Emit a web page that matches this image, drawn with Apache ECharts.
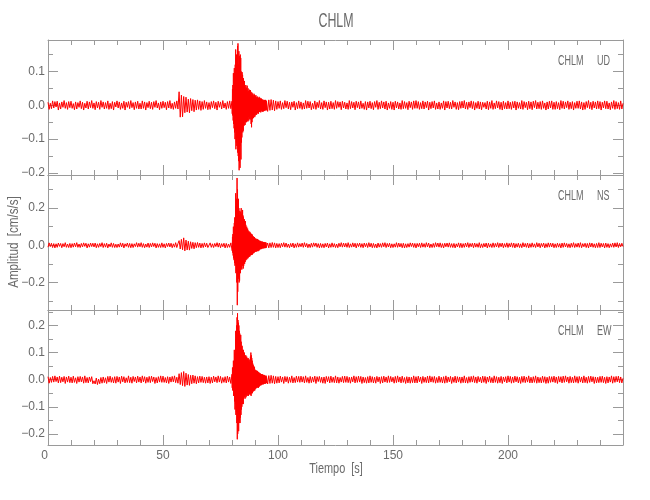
<!DOCTYPE html>
<html>
<head>
<meta charset="utf-8">
<script src="https://cdn.jsdelivr.net/npm/echarts@6/dist/echarts.min.js"></script>
<style>html,body{margin:0;padding:0;background:#fff}#c{width:650px;height:500px}</style>
</head>
<body>
<div id="c"></div>
<script>
// ---------------- DATA ----------------
const station = "CHLM";
const components = ["UD", "NS", "EW"];
const unit = 0.001;          // all trace values below are written in 10^-3 cm/s/s
const dt = 0.5;              // sampling of the quiet parts [s]
const preStart = 0;          // pre-event part: 0 .. 79.5 s
const eventStart = 80;       // event part: 80 .. 95 s
const eventDt = 0.1;         // sampling of the event part [s]
const postStart = 95.5;      // post-event part: 95.5 .. 250 s
const timeMin = 0, timeMax = 250;
const xTickLabels = [0, 50, 100, 150, 200];

// ---- UD ----
const udPre = [
 9,-12,6,-10,13,-8,11,-5,12,-14,7,-11,10,-6,14,-9,8,-12,11,-7,
 12,-9,5,-13,10,-11,8,-6,13,-10,9,-14,6,-8,12,-11,10,-7,14,-9,
 7,-13,11,-8,9,-12,14,-6,10,-11,8,-9,13,-12,6,-10,11,-14,9,-5,
 13,-8,10,-12,7,-9,12,-14,9,-6,11,-10,14,-7,8,-13,10,-9,12,-11,
 6,-11,13,-9,10,-14,8,-7,12,-10,9,-12,11,-6,14,-8,7,-13,10,-9,
 12,-7,9,-13,11,-8,14,-10,6,-12,10,-9,13,-11,40,-35,30,-34,26,-22,
 24,-20,18,-22,20,-16,17,-19,15,-14,16,-12,13,-15,11,-12,14,-9,10,-13,
 8,-12,11,-7,13,-10,9,-14,12,-6,10,-11,14,-8,7,-12,11,-9,13,-10
];
const udEvent = [
 12,-25,48,-30,60,-45,95,-55,70,-68,
 110,-80,95,-100,120,-75,165,-130,140,-110,
 150,-120,130,-95,175,-140,183,-150,120,-165,
 160,-192,145,-170,110,-185,150,-120,140,-160,
 100,-110,85,-95,98,-70,90,-80,60,-75,
 80,-55,65,-60,72,-45,55,-58,48,-50,
 60,-40,52,-50,45,-38,58,-45,40,-48,
 50,-35,42,-45,38,-30,46,-40,35,-42,
 45,-30,40,-55,30,-65,38,-50,28,-40,
 35,-28,30,-38,25,-32,34,-26,30,-35,
 28,-30,25,-22,30,-26,20,-28,24,-20,
 26,-22,20,-25,18,-24,22,-18,25,-20,
 20,-18,22,-15,19,-21,16,-18,20,-14,
 18,-16,14,-19,17,-13,15,-18,12,-16,
 16,-12,15,-17,13,-14,16,-11,14,-15,
 12
];
const udPost = [
 -18,16,-15,17,-14,15,-16,13,-12,
 11,-9,13,-12,8,-10,14,-7,12,-11,9,-13,10,-6,12,-14,8,-10,13,-9,
 10,-12,7,-11,14,-9,12,-8,11,-13,6,-10,13,-12,9,-7,14,-11,8,-12,
 13,-7,10,-14,9,-11,12,-10,8,-12,14,-9,11,-6,10,-13,12,-8,9,-11,
 7,-12,14,-10,11,-8,9,-13,12,-7,10,-11,13,-9,6,-12,11,-14,10,-8,
 12,-10,8,-13,11,-6,14,-12,9,-10,13,-8,10,-11,12,-14,7,-9,11,-12,
 9,-14,12,-8,10,-11,7,-12,14,-10,11,-9,8,-13,12,-7,10,-12,13,-9,
 14,-9,11,-12,8,-10,13,-11,10,-7,12,-14,9,-10,11,-8,13,-12,7,-11,
 10,-12,7,-9,13,-14,11,-8,12,-10,9,-11,14,-6,10,-12,8,-13,11,-9,
 12,-8,14,-11,9,-12,10,-7,13,-10,11,-14,8,-9,12,-11,10,-13,9,-6,
 8,-11,12,-13,10,-9,14,-12,7,-10,13,-8,11,-12,9,-14,12,-10,8,-11,
 13,-10,9,-12,11,-8,12,-14,10,-9,8,-11,14,-12,11,-7,9,-13,12,-10,
 10,-13,12,-7,14,-11,9,-10,11,-12,13,-9,7,-14,10,-11,12,-8,13,-12,
 9,-12,11,-10,8,-13,14,-9,12,-11,10,-7,13,-12,9,-10,11,-14,8,-9,
 12,-9,13,-11,10,-14,8,-12,11,-7,14,-10,9,-13,12,-8,10,-11,13,-10,
 11,-14,9,-8,13,-10,12,-11,7,-13,10,-9,14,-12,11,-10,8,-12,13,-11,
 6
];

// ---- NS ----
const nsPre = [
 -10,13,-7,11,-12,9,-14,8,-11,12,-6,10,-13,9,-8,14,-11,7,-12,10,
 -13,9,-10,12,-8,14,-11,7,-12,10,-9,13,-6,11,-14,8,-10,12,-7,11,
 -9,12,-13,8,-11,10,-7,14,-12,9,-10,11,-14,7,-8,13,-11,10,-12,6,
 -12,7,-10,13,-9,11,-14,8,-6,12,-11,10,-13,9,-12,8,-7,14,-10,11,
 -8,14,-11,9,-13,7,-10,12,-12,10,-9,13,-7,11,-14,9,-11,8,-12,13,
 -11,8,-14,10,-7,12,-9,11,-13,8,-10,14,-12,9,25,-20,32,-24,40,-30,
 28,-25,22,-26,19,-17,16,-19,14,-13,15,-11,12,-14,10,-12,13,-9,11,-12,
 -9,13,-11,8,-12,10,-7,14,-10,12,-13,9,-8,11,-14,10,-12,7,-11,13
];
const nsEvent = [
 15,-30,45,-40,60,-55,100,-70,85,-80,
 120,-95,150,-110,130,-100,280,-150,210,-140,
 250,-200,362,-322,300,-250,200,-180,250,-170,
 200,-200,160,-190,185,-140,170,-150,180,-130,
 200,-120,170,-130,150,-110,190,-100,160,-125,
 150,-110,120,-95,140,-100,110,-90,130,-80,
 110,-80,95,-70,100,-75,85,-65,90,-70,
 80,-65,70,-60,75,-55,65,-62,72,-50,
 65,-55,60,-48,62,-52,55,-45,58,-50,
 50,-45,48,-40,45,-42,40,-38,44,-35,
 38,-35,34,-32,36,-30,32,-34,30,-28,
 34,-30,28,-32,30,-26,27,-29,25,-24,
 22,-20,24,-18,21,-22,19,-17,20,-19,
 18,-16,20,-15,17,-18,16,-14,18,-15,
 16,-14,15,-16,14,-13,15,-12,14,-13,
 -12
];
const nsPost = [
 12,-14,13,-12,15,-11,13,-14,10,
 -12,9,-13,11,-8,14,-10,12,-11,7,-13,10,-9,12,-14,8,-11,13,-10,9,
 -8,12,-11,14,-9,10,-13,7,-12,11,-10,13,-6,12,-11,9,-14,10,-12,8,
 -13,10,-9,12,-14,8,-11,13,-10,9,-12,7,-13,11,-8,14,-10,12,-9,11,
 -11,14,-12,8,-10,13,-9,11,-14,10,-7,12,-11,9,-13,12,-8,10,-12,14,
 -9,11,-13,10,-12,7,-14,12,-10,9,-11,13,-8,14,-12,10,-9,11,-13,8,
 -12,8,-10,14,-11,12,-9,10,-13,11,-14,8,-12,9,-10,13,-7,12,-11,10,
 -14,10,-8,11,-12,13,-10,9,-11,14,-9,12,-13,7,-12,10,-11,14,-8,12,
 -10,13,-12,9,-14,11,-8,12,-10,13,-11,9,-12,10,-14,8,-9,13,-12,11,
 -13,9,-11,12,-9,14,-12,10,-8,11,-13,12,-10,9,-11,14,-13,8,-12,10,
 -9,12,-14,11,-10,8,-12,13,-11,10,-9,14,-12,11,-8,12,-13,9,-10,13,
 -12,10,-9,13,-11,12,-14,9,-10,11,-12,8,-13,14,-9,10,-11,12,-14,9,
 -11,13,-10,8,-12,14,-9,11,-13,10,-8,12,-14,9,-11,13,-10,12,-9,11,
 -13,8,-12,11,-10,9,-14,12,-11,13,-9,10,-12,8,-13,11,-10,14,-12,9,
 -10,12,-11,14,-13,9,-8,11,-12,10,-14,13,-9,12,-11,8,-13,10,-12,14,
 -12,11,-9,10,-14,12,-11,9,-13,8,-10,12,-11,13,-9,14,-12,10,-8,11,
 -7
];

// ---- EW ----
const ewPre = [
 11,-13,8,-10,12,-9,14,-7,10,-12,13,-11,9,-8,12,-14,10,-9,13,-11,
 9,-12,13,-10,7,-14,11,-9,12,-8,10,-13,14,-11,8,-12,10,-7,11,-15,
 -4,-16,6,-18,2,-15,8,-13,10,-11,7,-14,12,-9,13,-10,8,-12,11,-13,
 12,-9,10,-14,13,-8,11,-12,7,-10,14,-11,9,-13,12,-7,10,-12,13,-9,
 10,-12,14,-8,11,-13,9,-10,12,-11,13,-7,10,-14,8,-12,11,-9,14,-10,
 13,-10,8,-12,11,-14,10,-9,12,-8,14,-11,9,-13,22,-18,26,-22,30,-25,
 24,-20,19,-21,16,-15,17,-13,14,-15,11,-12,13,-10,12,-11,9,-13,10,-12,
 11,-14,9,-12,13,-8,10,-11,14,-9,12,-13,8,-10,11,-12,13,-9,10,-14
];
const ewEvent = [
 20,-30,45,-40,38,-35,70,-60,55,-50,
 110,-80,95,-110,100,-90,180,-130,150,-120,
 200,-160,230,-220,245,-200,220,-180,210,-190,
 200,-160,180,-150,170,-160,150,-140,165,-130,
 140,-110,120,-100,125,-90,110,-85,100,-90,
 110,-70,95,-65,100,-60,90,-70,85,-55,
 90,-65,80,-55,85,-60,70,-50,78,-58,
 80,-60,70,-50,75,-55,65,-48,72,-52,
 85,-55,100,-60,90,-50,80,-45,70,-50,
 60,-45,55,-40,50,-42,48,-38,45,-40,
 37,-35,33,-30,35,-32,30,-28,33,-30,
 32,-28,30,-26,28,-30,25,-27,26,-24,
 22,-20,24,-18,21,-22,19,-17,20,-19,
 18,-17,20,-15,16,-18,17,-14,18,-16,
 15,-14,16,-13,14,-15,13,-12,15,-13,
 11
];
const ewPost = [
 -16,15,-14,16,-13,14,-15,12,-13,
 11,-12,13,-9,10,-14,12,-8,11,-13,9,-10,14,-12,8,-11,13,-9,12,-10,
 13,-9,11,-12,14,-10,8,-13,12,-11,10,-9,13,-14,11,-7,12,-10,9,-13,
 10,-14,12,-8,11,-12,13,-10,9,-11,14,-12,10,-13,8,-9,12,-11,13,-10,
 12,-11,9,-13,10,-8,14,-12,11,-10,13,-9,12,-14,10,-11,8,-13,11,-12,
 14,-10,11,-12,9,-13,12,-8,10,-14,11,-12,13,-9,10,-11,14,-10,12,-8,
 9,-13,12,-11,14,-9,10,-12,13,-10,8,-14,11,-12,10,-13,9,-11,14,-12,
 11,-12,13,-8,10,-14,12,-10,9,-11,13,-12,14,-9,11,-10,12,-13,8,-11,
 13,-10,9,-12,11,-13,14,-11,10,-8,12,-14,9,-10,13,-12,11,-9,10,-13,
 10,-11,14,-12,8,-13,11,-10,12,-9,14,-11,10,-13,12,-8,9,-12,13,-10,
 12,-14,10,-9,13,-11,8,-12,14,-10,11,-13,9,-11,12,-14,10,-8,11,-12,
 14,-9,12,-13,10,-11,13,-8,11,-12,9,-14,12,-10,13,-11,10,-9,14,-12,
 9,-12,11,-10,14,-13,10,-11,8,-12,13,-10,11,-14,9,-13,12,-10,11,-9,
 13,-11,10,-14,12,-9,11,-12,13,-10,14,-8,10,-13,12,-11,9,-12,14,-10,
 11,-13,12,-9,10,-12,14,-11,9,-13,12,-10,13,-8,11,-14,10,-12,9,-11,
 12,-10,13,-11,9,-14,11,-12,10,-9,14,-13,11,-10,12,-8,13,-11,10,-12,
 5
];

const tracesPre = [udPre, nsPre, ewPre];
const tracesEvent = [udEvent, nsEvent, ewEvent];
const tracesPost = [udPost, nsPost, ewPost];

// y-axis ranges of the three panels [cm/s/s]
const yRanges = [[-0.206, 0.193], [-0.348, 0.378], [-0.241, 0.257]];
const yMajor = [[-0.2, -0.1, 0, 0.1], [-0.2, 0, 0.2], [-0.2, -0.1, 0, 0.1, 0.2]];
const yMinor = [[-0.15, -0.05, 0.05, 0.15], [-0.3, -0.1, 0.1, 0.3], [-0.15, -0.05, 0.05, 0.15, 0.25]];

// ---------------- CHART ----------------
const FONT = '"Liberation Sans", Arial, sans-serif';
const AX = '#9a9a9a';
const TX = '#6a6a6a';
const gridTops = [40, 175, 310];
const gridH = 135;
const L = 48, W = 575;

function buildTrace(g) {
  const d = [];
  tracesPre[g].forEach((v, i) => d.push([preStart + i * dt, v * unit]));
  tracesEvent[g].forEach((v, i) => d.push([+(eventStart + i * eventDt).toFixed(2), v * unit]));
  tracesPost[g].forEach((v, i) => d.push([postStart + i * dt, v * unit]));
  return d;
}
function fmt(v) {
  const s = Math.abs(v).toFixed(1);
  return (v < -1e-9 ? '\u2212' : '') + s;
}
function txt(str, x, y, size, sx, align, rot) {
  return {
    type: 'text', x: x, y: y, rotation: rot || 0, scaleX: sx, scaleY: 1, silent: true,
    style: {text: str, fill: TX, font: size + 'px ' + FONT, align: align, verticalAlign: 'middle'}
  };
}

const grids = [], xAxes = [], yAxes = [], series = [], graphics = [];
for (let g = 0; g < 3; g++) {
  grids.push({left: L, width: W, top: gridTops[g], height: gridH, containLabel: false});
  ['bottom', 'top'].forEach(pos => {
    xAxes.push({
      gridIndex: g, type: 'value', position: pos, min: timeMin, max: timeMax, interval: 50,
      axisLine: {show: true, onZero: false, lineStyle: {color: AX, width: 1}},
      axisTick: {show: true, inside: true, length: 10, lineStyle: {color: AX}},
      minorTick: {show: true, splitNumber: 5, length: 5, lineStyle: {color: AX}},
      splitLine: {show: false}, minorSplitLine: {show: false},
      axisLabel: {
        show: g === 2 && pos === 'bottom', customValues: xTickLabels, alignMinLabel: 'right',
        color: TX, fontFamily: FONT, fontSize: 12, margin: 5, formatter: v => String(v)
      }
    });
  });
  const [mn, mx] = yRanges[g];
  ['left', 'right'].forEach(pos => {
    yAxes.push({
      gridIndex: g, type: 'value', position: pos, min: mn, max: mx,
      axisLine: {show: true, onZero: false, lineStyle: {color: AX, width: 1}},
      axisTick: {show: true, inside: true, length: 10, customValues: yMajor[g], lineStyle: {color: AX}},
      splitLine: {show: false},
      axisLabel: {
        show: pos === 'left', customValues: yMajor[g], formatter: fmt,
        color: TX, fontFamily: FONT, fontSize: 12, margin: 3
      }
    });
    yAxes.push({
      gridIndex: g, type: 'value', position: pos, min: mn, max: mx,
      axisLine: {show: false, onZero: false},
      axisTick: {show: true, inside: true, length: 5, customValues: yMinor[g], lineStyle: {color: AX}},
      splitLine: {show: false},
      axisLabel: {show: false}
    });
  });
  series.push({
    type: 'line', xAxisIndex: g * 2, yAxisIndex: g * 4,
    data: buildTrace(g),
    symbol: 'none', showSymbol: false, sampling: null, clip: true, silent: true,
    lineStyle: {color: '#ff0000', width: 1}, z: 1
  });
  graphics.push(txt(station, 558, gridTops[g] + 21, 15, 0.6, 'left'));
  graphics.push(txt(components[g], 597, gridTops[g] + 21, 15, 0.6, 'left'));
}
graphics.push(txt('Amplitud  [cm/s/s]', 14, 242, 14, 0.83, 'center', Math.PI / 2));
graphics.push(txt('Tiempo  [s]', 336, 469, 14, 0.78, 'center'));
graphics.push(txt(station, 336, 21, 20, 0.62, 'center'));

const chart = echarts.init(document.getElementById('c'), null, {renderer: 'canvas'});
chart.setOption({
  animation: false,
  backgroundColor: '#ffffff',
  grid: grids, xAxis: xAxes, yAxis: yAxes, series: series, graphic: graphics
});
</script>
</body>
</html>
